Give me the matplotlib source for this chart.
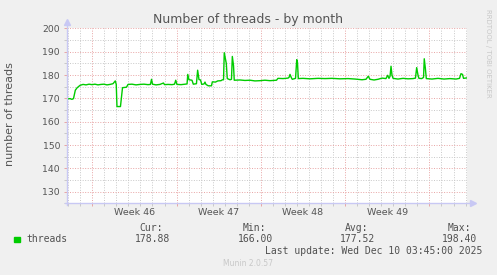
import matplotlib.pyplot as plt
import matplotlib.transforms as mtransforms
from matplotlib.ticker import MultipleLocator

# days since Mon 10 Nov 2025 00:00
days = [
    -2.10, -1.85, -1.69, -1.56, -1.41, -1.27, -1.02, -0.77, -0.52, -0.27,
    -0.02, 0.22, 0.47, 0.72, 0.97, 1.22, 1.47, 1.72, 1.91, 1.99,
    2.05, 2.34, 2.51, 2.84, 2.97, 3.30, 3.63, 3.96, 4.29, 4.63,
    4.83, 4.92, 5.00, 5.29, 5.62, 5.91, 6.00, 6.29, 6.62, 6.83,
    6.93, 7.03, 7.37, 7.70, 7.87, 7.93, 8.03, 8.28, 8.39, 8.65,
    8.75, 8.86, 8.99, 9.09, 9.28, 9.36, 9.44, 9.63, 9.90, 9.97,
    10.23, 10.42, 10.69, 10.81, 10.90, 10.96, 11.13, 11.21, 11.44, 11.56,
    11.63, 11.73, 11.79, 12.27, 12.68, 13.10, 13.51, 13.93, 14.34, 14.76,
    15.30, 15.42, 15.84, 16.25, 16.34, 16.42, 16.54, 16.61, 16.88, 16.98,
    17.04, 17.11, 17.50, 18.08, 18.75, 19.33, 19.91, 20.57, 21.24, 21.82,
    22.40, 22.73, 22.92, 23.06, 23.40, 23.73, 24.06, 24.39, 24.53, 24.64,
    24.73, 24.81, 24.89, 24.98, 25.39, 25.81, 26.22, 26.64, 26.84, 26.94,
    27.05, 27.13, 27.36, 27.51, 27.57, 27.66, 27.74, 28.21, 28.71, 29.21,
    29.71, 30.21, 30.50, 30.62, 30.75, 30.83, 31.12,
]
threads = [
    169.8, 169.9, 169.6, 169.9, 173.5, 174.5, 175.6, 176.0, 175.8, 176.1,
    175.9, 176.1, 175.8, 176.0, 176.1, 175.8, 176.0, 176.3, 177.5, 176.0,
    166.5, 166.5, 174.6, 174.8, 176.0, 176.1, 175.8, 176.0, 176.1, 175.9,
    176.0, 178.2, 176.1, 175.8, 176.0, 176.6, 175.9, 176.0, 175.9, 176.1,
    177.8, 176.0, 175.9, 176.1, 176.2, 180.3, 178.0, 177.8, 176.1, 176.3,
    182.1, 178.1, 177.9, 176.0, 176.2, 177.0, 176.0, 175.4, 175.4, 177.1,
    177.0, 177.5, 177.6, 178.0, 178.0, 189.6, 185.0, 178.5, 178.0, 178.2,
    188.0, 184.0, 177.8, 177.9, 177.7, 177.8, 177.5, 177.6, 177.8, 177.6,
    177.8, 178.6, 178.5, 178.7, 179.0, 180.3, 178.8, 178.2, 178.6, 186.6,
    185.5, 178.5, 178.6, 178.4, 178.6, 178.5, 178.6, 178.4, 178.5, 178.3,
    178.0, 178.2, 179.5, 178.2, 177.9, 178.2, 178.7, 178.5, 179.9, 178.6,
    179.5, 183.8, 180.0, 178.6, 178.3, 178.6, 178.4, 178.5, 178.7, 183.2,
    180.0, 178.6, 178.5, 179.0, 187.0, 183.0, 178.5, 178.3, 178.6, 178.3,
    178.5, 178.3, 178.6, 180.6, 180.3, 178.6, 178.8,
]
week_mid = [3.5, 10.5, 17.5, 24.5]
week_labels = ["Week 46", "Week 47", "Week 48", "Week 49"]
stat_names = ["Cur:", "Min:", "Avg:", "Max:"]
stat_values = ["178.88", "166.00", "177.52", "198.40"]

W, H = 497, 275
fig = plt.figure(figsize=(W / 100, H / 100), dpi=100, facecolor="#f0f0f0")
ax = fig.add_axes([67 / W, (H - 203.3) / H, 400 / W, (203.3 - 28) / H])
ax.set_facecolor("white")

ax.plot(days, threads, color="#00cc00", lw=1.0, zorder=3)

ax.set_xlim(-2.10, 31.12)
ax.set_ylim(125, 200.2)
ax.xaxis.set_major_locator(MultipleLocator(7))
ax.xaxis.set_minor_locator(MultipleLocator(1))
ax.yaxis.set_major_locator(MultipleLocator(10))
ax.yaxis.set_minor_locator(MultipleLocator(5))
ax.set_yticks(range(130, 201, 10))
ax.set_xticks([0, 7, 14, 21, 28])
ax.set_xticklabels([])

dots = (0, (1, 1.6))
ax.grid(which="minor", color="#c8c8c8", lw=0.7, linestyle=dots, zorder=1)
ax.grid(which="major", color="#e8a4a4", lw=0.7, linestyle=dots, zorder=2)
ax.set_axisbelow(True)

for s in ax.spines.values():
    s.set_visible(False)
axcol = "#c8c8f4"
ax.plot([-0.005, 1.015], [0, 0], transform=ax.transAxes, color=axcol,
        lw=1, clip_on=False, zorder=4)
ax.plot([0, 0], [-0.01, 1.035], transform=ax.transAxes, color=axcol,
        lw=1, clip_on=False, zorder=4)
ax.plot([1.015], [0], transform=ax.transAxes, marker=">", ms=5,
        color=axcol, clip_on=False, zorder=4)
ax.plot([0], [1.035], transform=ax.transAxes, marker="^", ms=5,
        color=axcol, clip_on=False, zorder=4)

ax.tick_params(which="major", axis="x", length=2, width=0.7, color="#e8a4a4")
ax.tick_params(which="minor", axis="x", length=2, width=0.7, color="#c8c8c8")
ax.tick_params(which="major", axis="y", length=2, width=0.7, color="#e8a4a4",
               labelsize=6.7, labelcolor="#555555", pad=3)
ax.tick_params(which="minor", axis="y", length=2, width=0.7, color="#c8c8c8")

trans = mtransforms.blended_transform_factory(ax.transData, ax.transAxes)
for d, lab in zip(week_mid, week_labels):
    ax.text(d, -0.052, lab, transform=trans, ha="center", va="center",
            fontsize=6.8, color="#555555")

fig.text(248 / W, 1 - 19 / H, "Number of threads - by month", ha="center",
         va="center", fontsize=9, color="#555555")
fig.text(10 / W, 1 - 114 / H, "number of threads", rotation=90, ha="center",
         va="center", fontsize=8, color="#555555")
fig.text(488 / W, 1 - 53 / H, "RRDTOOL / TOBI OETIKER", rotation=270,
         ha="center", va="center", fontsize=5, color="#c8c8c8")

mono = "DejaVu Sans Mono"
fig.patches.append(plt.Rectangle((14 / W, 1 - 242.3 / H), 6 / W, 5 / H,
                                 transform=fig.transFigure, color="#00cc00"))
fig.text(26.7 / W, 1 - 239.5 / H, "threads", ha="left", va="center",
         family=mono, fontsize=7, color="#505050")
name_right = [162.7, 266, 368.3, 470.7]
value_right = [170, 272.7, 375, 476.7]
for nm, val, xn, xv in zip(stat_names, stat_values, name_right, value_right):
    fig.text(xn / W, 1 - 227.7 / H, nm, ha="right", va="center",
             family=mono, fontsize=7, color="#505050")
    fig.text(xv / W, 1 - 239.5 / H, val, ha="right", va="center",
             family=mono, fontsize=7, color="#505050")
fig.text(482.3 / W, 1 - 251 / H, "Last update: Wed Dec 10 03:45:00 2025",
         ha="right", va="center", family=mono, fontsize=7, color="#505050")
fig.text(272.7 / W, 1 - 264 / H, "Munin 2.0.57", ha="right", va="center",
         fontsize=5.5, color="#c8c8c8")

fig.savefig("out.png", dpi=100, facecolor=fig.get_facecolor())
